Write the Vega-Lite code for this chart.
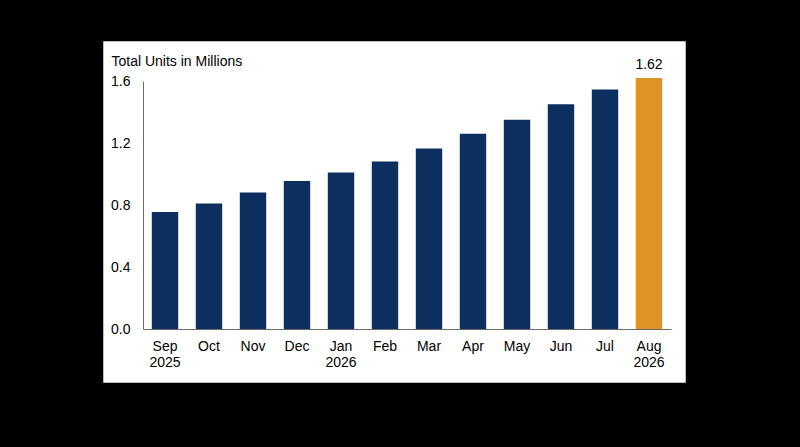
{
  "$schema": "https://vega.github.io/schema/vega-lite/v6.json",
  "width": 582,
  "height": 341,
  "autosize": {"type": "none"},
  "padding": {"left": 103, "top": 41, "right": 115, "bottom": 65},
  "background": "black",
  "config": {
    "view": {"fill": "white", "stroke": "#bbbbbb", "strokeWidth": 1},
    "font": "Liberation Sans",
    "axis": {
      "labelFont": "Liberation Sans",
      "labelFontSize": 14,
      "labelColor": "black",
      "titleFont": "Liberation Sans",
      "titleFontSize": 14,
      "titleFontWeight": "normal",
      "titleColor": "black",
      "grid": false,
      "ticks": false,
      "domainColor": "#6b6b6b",
      "domainWidth": 1
    }
  },
  "data": {
    "values": [
      {"month": "Sep 2025", "units": 0.755, "latest": false},
      {"month": "Oct", "units": 0.81, "latest": false},
      {"month": "Nov", "units": 0.88, "latest": false},
      {"month": "Dec", "units": 0.955, "latest": false},
      {"month": "Jan 2026", "units": 1.01, "latest": false},
      {"month": "Feb", "units": 1.08, "latest": false},
      {"month": "Mar", "units": 1.165, "latest": false},
      {"month": "Apr", "units": 1.26, "latest": false},
      {"month": "May", "units": 1.35, "latest": false},
      {"month": "Jun", "units": 1.45, "latest": false},
      {"month": "Jul", "units": 1.545, "latest": false},
      {"month": "Aug 2026", "units": 1.62, "latest": true}
    ]
  },
  "encoding": {
    "x": {
      "field": "month",
      "type": "nominal",
      "sort": null,
      "scale": {"range": [40, 568], "paddingInner": 0.4, "paddingOuter": 0.2},
      "axis": {
        "title": null,
        "labelAngle": 0,
        "labelPadding": 10,
        "labelLineHeight": 16,
        "labelBaseline": "top",
        "labelExpr": "split(datum.label, ' ')",
        "offset": -53
      }
    },
    "y": {
      "field": "units",
      "type": "quantitative",
      "scale": {"domain": [0, 1.6], "range": [288, 40], "nice": false},
      "axis": {
        "title": "Total Units in Millions",
        "titleAngle": 0,
        "titleAlign": "left",
        "titleBaseline": "alphabetic",
        "titleX": -32,
        "titleY": 24,
        "values": [0, 0.4, 0.8, 1.2, 1.6],
        "format": ".1f",
        "labelPadding": 13,
        "offset": -40
      }
    }
  },
  "layer": [
    {
      "mark": {"type": "bar"},
      "encoding": {
        "color": {
          "field": "latest",
          "type": "nominal",
          "scale": {"domain": [false, true], "range": ["#0c2f5f", "#df9327"]},
          "legend": null
        }
      }
    },
    {
      "transform": [{"filter": "datum.latest"}],
      "mark": {"type": "text", "baseline": "alphabetic", "dy": -9, "fontSize": 14, "color": "black"},
      "encoding": {
        "text": {"field": "units", "type": "quantitative", "format": ".2f"}
      }
    }
  ]
}
